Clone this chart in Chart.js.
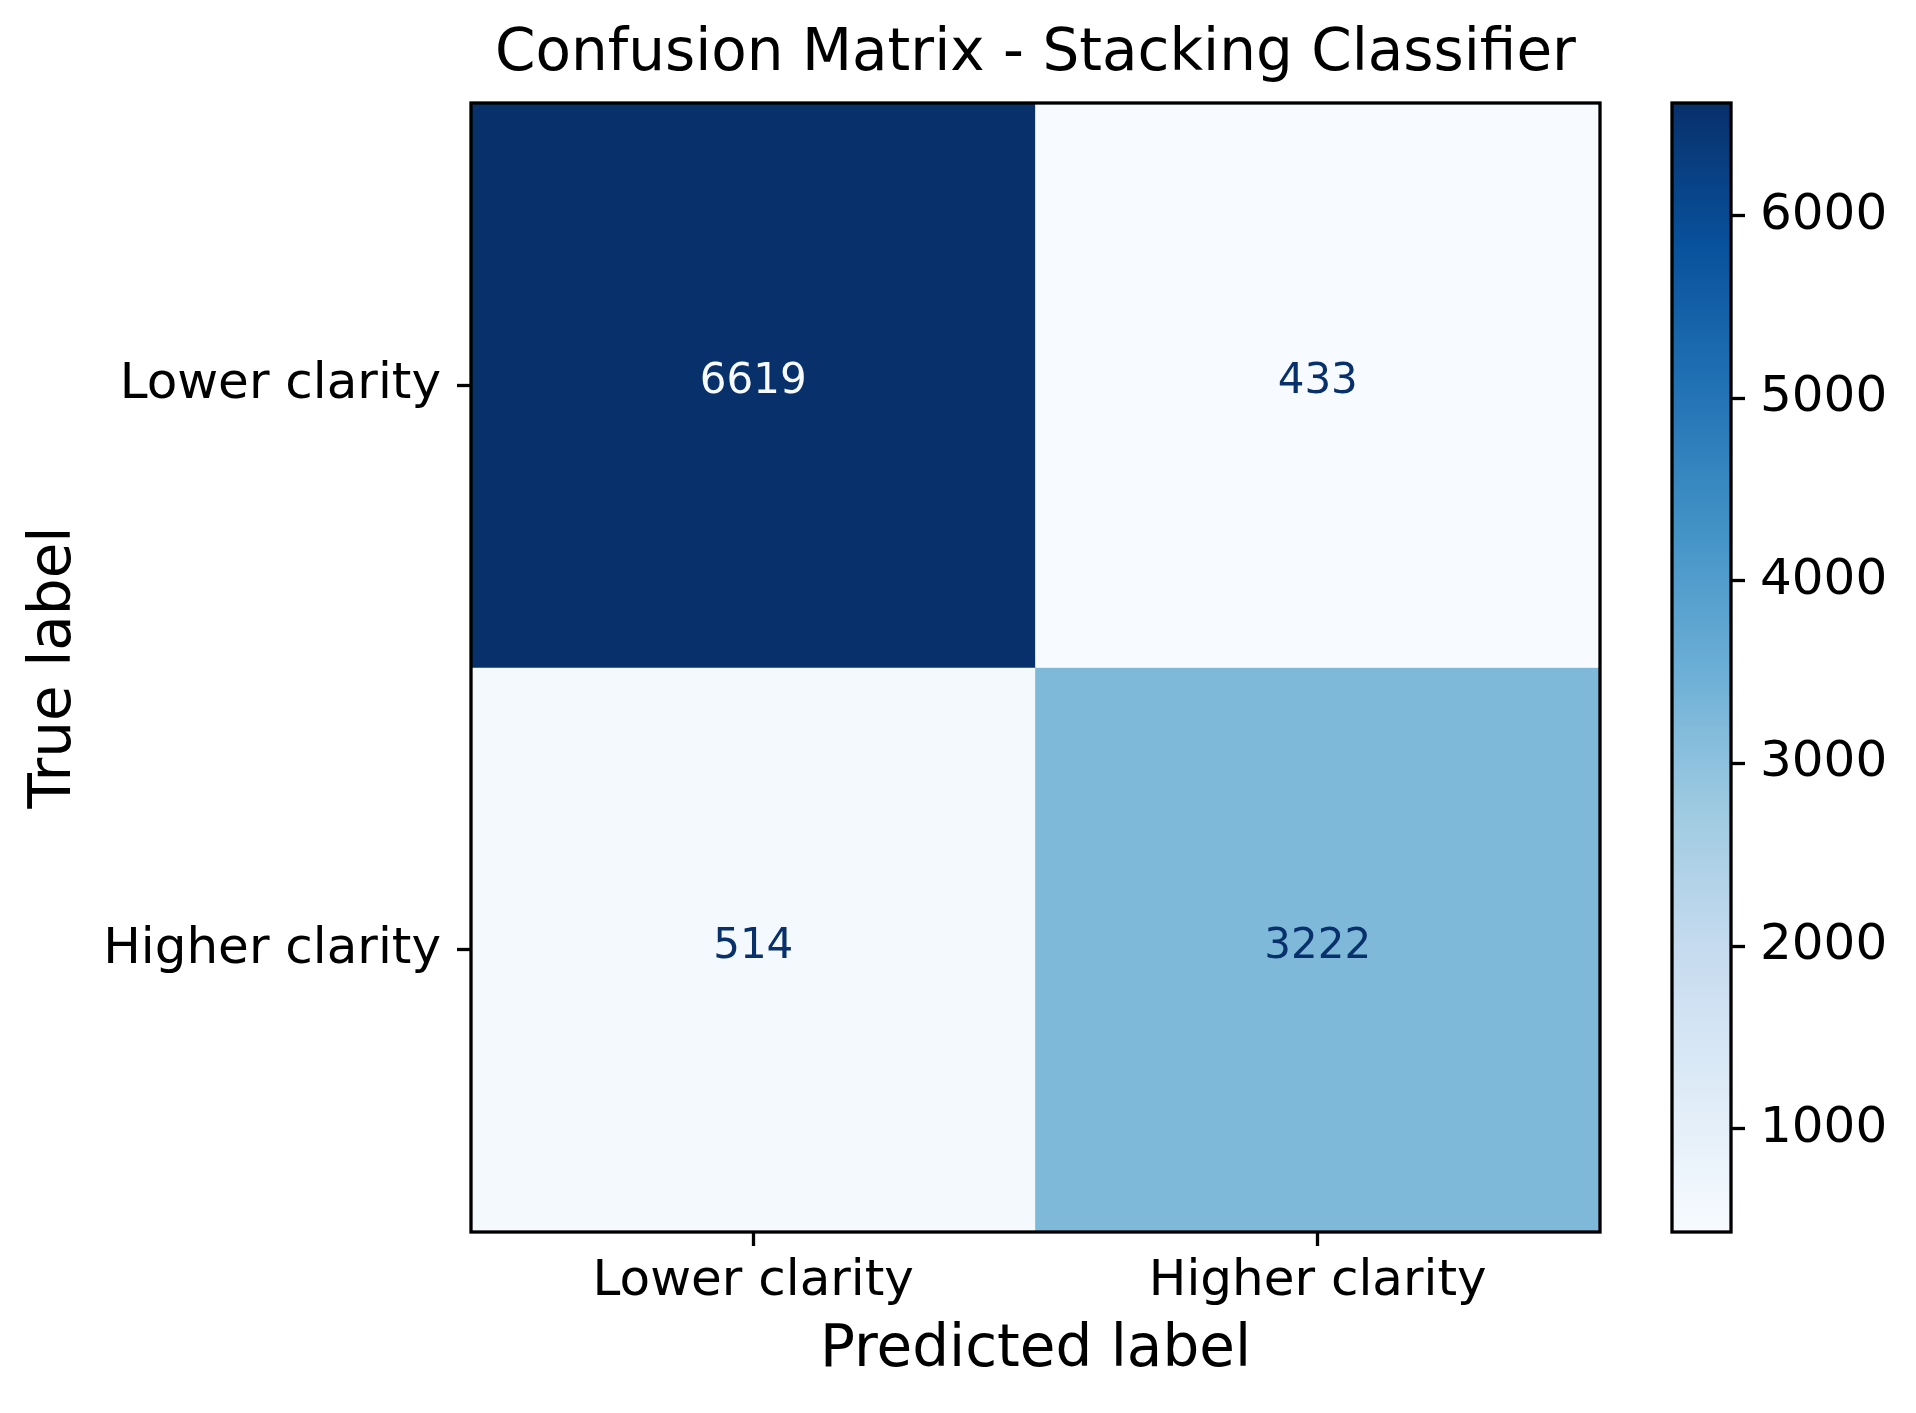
<!DOCTYPE html>
<html>
<head>
<meta charset="utf-8">
<title>Confusion Matrix - Stacking Classifier</title>
<script src="https://cdn.jsdelivr.net/npm/chart.js@4.4.1/dist/chart.umd.min.js"></script>
<style>
    html, body { margin: 0; padding: 0; background: #ffffff; }
    #wrap { position: relative; width: 1916px; height: 1413px; }
    #matrix { position: absolute; left: 0; top: 0; }
    #colorbar { position: absolute; left: 1600px; top: 0; }
</style>
</head>
<body>
<div id="wrap">
    <canvas id="matrix" width="1916" height="1413" style="width:1916px;height:1413px"></canvas>
    <canvas id="colorbar" width="316" height="1413" style="width:316px;height:1413px"></canvas>
</div>
<script>
// chart values
const predictedLabels = ['Lower clarity', 'Higher clarity'];
const trueLabels = ['Lower clarity', 'Higher clarity'];
const lowerClarityRow = [6619, 433];
const higherClarityRow = [514, 3222];
const colorbarTicks = [1000, 2000, 3000, 4000, 5000, 6000];

const matrixRows = [lowerClarityRow, higherClarityRow];
const allValues = [...lowerClarityRow, ...higherClarityRow];
const vmin = Math.min(...allValues);
const vmax = Math.max(...allValues);

// matplotlib "Blues" control colours
const blues = [
    [247, 251, 255], [222, 235, 247], [198, 219, 239], [158, 202, 225],
    [107, 174, 214], [66, 146, 198], [33, 113, 181], [8, 81, 156], [8, 48, 107]
];

const bluesAt = (t) => {
    t = Math.max(0, Math.min(1, t));
    const pos = t * (blues.length - 1);
    const i = Math.min(Math.floor(pos), blues.length - 2);
    const f = pos - i;
    const c = blues[i].map((v, k) => Math.round(v + (blues[i + 1][k] - v) * f));
    return `rgb(${c[0]}, ${c[1]}, ${c[2]})`;
};

const colorFor = (v) => bluesAt((v - vmin) / (vmax - vmin));
const textColorFor = (v) => (v < (vmin + vmax) / 2 ? bluesAt(1) : bluesAt(0));

Chart.defaults.font.family = '"DejaVu Sans", sans-serif';
Chart.defaults.color = '#000000';

const FRAME_WIDTH = 3.3;

const framePlugin = {
    id: 'frame',
    afterDraw(chart) {
        const { ctx, chartArea } = chart;
        ctx.save();
        ctx.strokeStyle = '#000000';
        ctx.lineWidth = FRAME_WIDTH;
        ctx.strokeRect(chartArea.left, chartArea.top,
            chartArea.right - chartArea.left, chartArea.bottom - chartArea.top);
        ctx.restore();
    }
};

const cellTextPlugin = {
    id: 'cellText',
    afterDatasetsDraw(chart) {
        const { ctx } = chart;
        ctx.save();
        ctx.font = '42px "DejaVu Sans", sans-serif';
        ctx.textAlign = 'center';
        ctx.textBaseline = 'middle';
        chart.data.datasets.forEach((ds, di) => {
            const meta = chart.getDatasetMeta(di);
            meta.data.forEach((el, ci) => {
                const value = matrixRows[di][ci];
                ctx.fillStyle = textColorFor(value);
                ctx.fillText(String(value), el.x, (el.y + el.base) / 2 - 3);
            });
        });
        ctx.restore();
    }
};

const tickGrid = {
    display: true,
    drawOnChartArea: false,
    drawTicks: true,
    tickLength: 14,
    tickWidth: 3.3,
    tickColor: '#000000'
};

new Chart(document.getElementById('matrix'), {
    type: 'bar',
    data: {
        labels: predictedLabels,
        datasets: matrixRows.map((row, r) => ({
            label: trueLabels[r],
            data: row.map(() => [r, r + 1]),
            backgroundColor: row.map(colorFor),
            borderWidth: 0,
            barPercentage: 1,
            categoryPercentage: 1
        }))
    },
    options: {
        responsive: false,
        animation: false,
        layout: { padding: { left: 0, top: 0, right: 316, bottom: 0 } },
        plugins: {
            legend: { display: false },
            tooltip: { enabled: false },
            title: {
                display: true,
                fullSize: false,
                text: 'Confusion Matrix - Stacking Classifier',
                color: '#000000',
                font: { size: 58, weight: 'normal' },
                padding: { top: 20, bottom: 13.4 }
            }
        },
        scales: {
            x: {
                stacked: true,
                grid: { ...tickGrid, offset: false },
                border: { display: false },
                ticks: {
                    font: { size: 50 },
                    color: '#000000',
                    padding: 6,
                    maxRotation: 0,
                    autoSkip: false
                },
                title: {
                    display: true,
                    text: 'Predicted label',
                    color: '#000000',
                    font: { size: 58 },
                    padding: { top: 0, bottom: 27 }
                },
                afterFit: (scale) => { scale.height = 181; }
            },
            y: {
                type: 'linear',
                stacked: false,
                min: 0,
                max: trueLabels.length,
                reverse: true,
                grid: tickGrid,
                border: { display: false },
                afterBuildTicks: (scale) => {
                    scale.ticks = trueLabels.map((_, i) => ({ value: i + 0.5 }));
                },
                ticks: {
                    font: { size: 50 },
                    color: '#000000',
                    padding: 16,
                    callback: (value) => trueLabels[Math.floor(value)]
                },
                title: {
                    display: true,
                    text: 'True label',
                    color: '#000000',
                    font: { size: 58 },
                    padding: { top: 20, bottom: 0 }
                },
                afterFit: (scale) => { scale.width = 471; }
            }
        }
    },
    plugins: [cellTextPlugin, framePlugin]
});

new Chart(document.getElementById('colorbar'), {
    type: 'bar',
    data: {
        labels: [''],
        datasets: [{
            data: [[vmin, vmax]],
            borderWidth: 0,
            barPercentage: 1,
            categoryPercentage: 1,
            backgroundColor: (context) => {
                const { ctx, chartArea } = context.chart;
                if (!chartArea) return bluesAt(0.5);
                const g = ctx.createLinearGradient(0, chartArea.bottom, 0, chartArea.top);
                blues.forEach((c, i) => {
                    g.addColorStop(i / (blues.length - 1), `rgb(${c[0]}, ${c[1]}, ${c[2]})`);
                });
                return g;
            }
        }]
    },
    options: {
        responsive: false,
        animation: false,
        layout: { padding: { left: 72, top: 103, right: 0, bottom: 181 } },
        plugins: {
            legend: { display: false },
            tooltip: { enabled: false }
        },
        scales: {
            x: { display: false },
            y: {
                position: 'right',
                min: vmin,
                max: vmax,
                grid: tickGrid,
                border: { display: false },
                afterBuildTicks: (scale) => {
                    scale.ticks = colorbarTicks.map((v) => ({ value: v }));
                },
                ticks: {
                    font: { size: 50 },
                    color: '#000000',
                    padding: 15,
                    callback: (value) => String(value)
                },
                afterFit: (scale) => { scale.width = 185; }
            }
        }
    },
    plugins: [framePlugin]
});
</script>
</body>
</html>
